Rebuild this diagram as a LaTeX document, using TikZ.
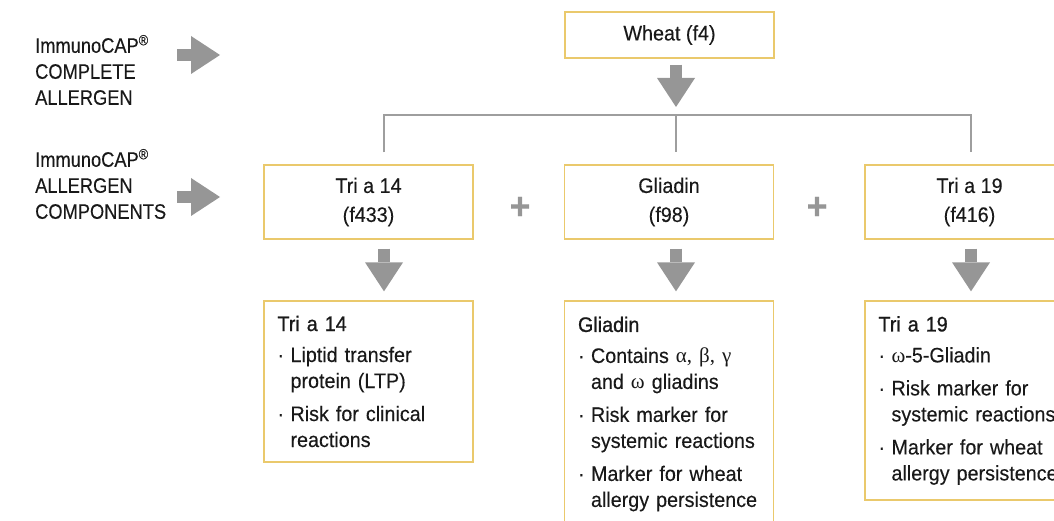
\documentclass[tikz,border=0pt]{standalone}
\usepackage{fontspec}
\setmainfont{Liberation Sans}[FakeStretch=0.94,FakeBold=0.25]
\newfontfamily\greekfont{Liberation Serif}
\newfontfamily\headfont{Liberation Sans}[FakeStretch=0.94,FakeBold=0.9]
\newfontfamily\sidefont{Liberation Sans}[FakeStretch=0.87,FakeBold=0.25]
\usetikzlibrary{arrows.meta}
\definecolor{boxgold}{RGB}{234,201,108}
\definecolor{arrowgrey}{RGB}{150,150,150}
\definecolor{linegrey}{RGB}{158,158,158}
\definecolor{textblack}{RGB}{25,25,25}
\newcommand{\gr}[1]{{\greekfont #1}}
\newcommand{\itm}{\makebox[13pt][l]{·}}
\newcommand{\ind}{\hspace*{13pt}}
\begin{document}
\begin{tikzpicture}[x=1pt,y=-1pt,
    every node/.style={text=textblack,font=\fontsize{21}{26}\selectfont},
    allergen/.style={draw=boxgold,line width=1.3pt,minimum width=209pt,minimum height=74pt,
      align=center,inner sep=0pt,font=\fontsize{21}{29}\selectfont},
    info/.style={draw=boxgold,line width=1.3pt,text width=182pt,inner xsep=13.5pt,inner ysep=0pt,align=left},
    sidelabel/.style={align=left,anchor=west,inner sep=0pt,font=\sidefont\fontsize{21}{26}\selectfont},
    plussign/.style={text=arrowgrey,inner sep=0pt,font=\fontsize{38}{38}\selectfont\bfseries},
    blockarrow/.style={draw=arrowgrey,line width=12pt,-{Triangle[width=38pt,length=29pt,line width=0pt]}},
    busline/.style={draw=linegrey,line width=2.2pt}]
  \useasboundingbox (0,0) rectangle (1054,521);
  \clip (0,0) rectangle (1054,521);

  \node[sidelabel] (complete) at (35,70) {ImmunoCAP\textsuperscript{®}\\COMPLETE\\ALLERGEN};
  \node[sidelabel] (components) at (35,184) {ImmunoCAP\textsuperscript{®}\\ALLERGEN\\COMPONENTS};
  \coordinate (tocomplete) at (220,55);
  \coordinate (tocomponents) at (220,197);
  \draw[blockarrow] ([xshift=-43pt]tocomplete) -- (tocomplete);
  \draw[blockarrow] ([xshift=-43pt]tocomponents) -- (tocomponents);

  \node[allergen,minimum height=46pt] (wheat) at (669.5,35) {Wheat (f4)};
  \node[allergen] (tri14) at (368.5,202) {Tri a 14\\(f433)};
  \node[allergen] (gliadin) at (669,202) {Gliadin\\(f98)};
  \node[allergen] (tri19) at (969.5,202) {Tri a 19\\(f416)};
  \node[plussign] (plus1) at (520,208) {+};
  \node[plussign] (plus2) at (817,208) {+};

  \coordinate (busL) at (384,115);
  \coordinate (bus) at (676,115);
  \coordinate (busR) at (971,115);
  \draw[busline,shorten <=12pt,shorten >=12pt] (busL |- tri14.north) -- (busL) -- (busR) -- (busR |- tri19.north);
  \draw[busline,shorten >=12pt] (bus) -- (bus |- gliadin.north);
  \draw[blockarrow,shorten <=6pt,shorten >=8pt] ([xshift=6.5pt]wheat.south) -- (bus);

  \node[info,minimum height=161pt] (tri14info) at (368.5,381.5) {{\headfont Tri a 14}\\[5pt]
    \itm Liptid transfer\\
    \ind protein (LTP)\\[7pt]
    \itm Risk for clinical\\
    \ind reactions};
  \node[info,minimum height=226pt] (gliadininfo) at (669,414) {{\headfont Gliadin}\\[5pt]
    \itm Contains \gr{α, β, γ}\\
    \ind and \gr{ω} gliadins\\[7pt]
    \itm Risk marker for\\
    \ind systemic reactions\\[7pt]
    \itm Marker for wheat\\
    \ind allergy persistence};
  \node[info,minimum height=199pt] (tri19info) at (969.5,400.5) {{\headfont Tri a 19}\\[5pt]
    \itm \gr{ω}-5-Gliadin\\[7pt]
    \itm Risk marker for\\
    \ind systemic reactions\\[7pt]
    \itm Marker for wheat\\
    \ind allergy persistence};

  \draw[blockarrow,shorten <=9pt,shorten >=9pt] ([xshift=15.5pt]tri14.south) -- ([xshift=15.5pt]tri14info.north);
  \draw[blockarrow,shorten <=9pt,shorten >=9pt] ([xshift=7pt]gliadin.south) -- ([xshift=7pt]gliadininfo.north);
  \draw[blockarrow,shorten <=9pt,shorten >=9pt] ([xshift=1.5pt]tri19.south) -- ([xshift=1.5pt]tri19info.north);
\end{tikzpicture}
\end{document}
